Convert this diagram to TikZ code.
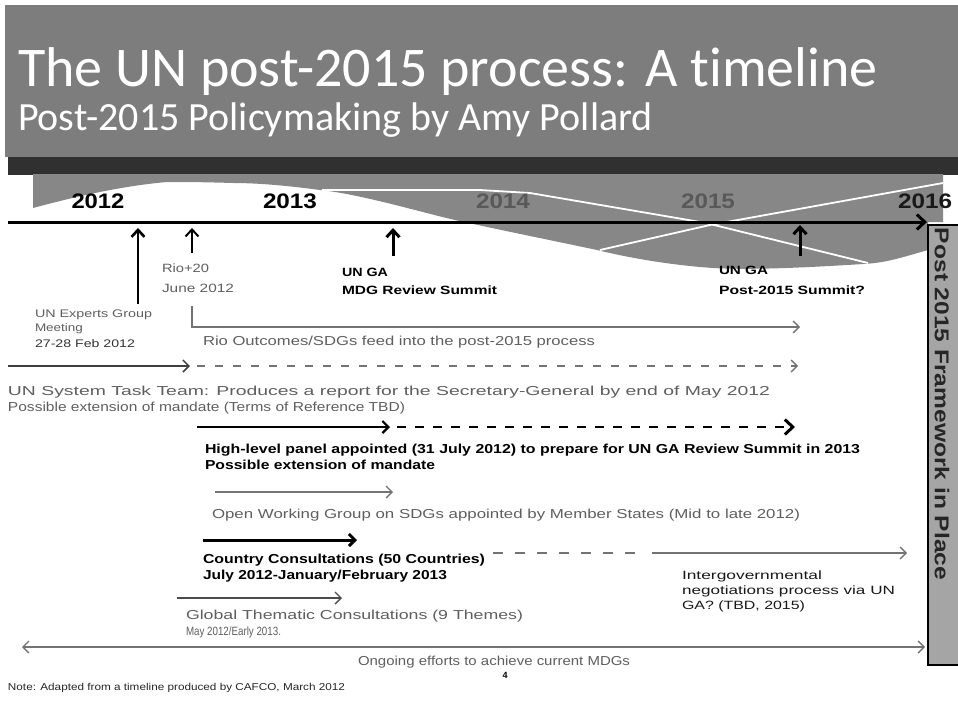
\documentclass[tikz,border=0pt]{standalone}
\usepackage{fontspec}
\usepackage{graphicx}
\setmainfont{Liberation Sans}
\newfontfamily\titlef[Ligatures=NoCommon]{Carlito}
\usetikzlibrary{arrows.meta}
\definecolor{hdr}{RGB}{125,125,125}
\definecolor{band}{RGB}{48,48,48}
\definecolor{ribbon}{RGB}{135,135,135}
\definecolor{txtg}{RGB}{95,95,95}
\definecolor{arrg}{RGB}{115,115,115}
\definecolor{boxg}{RGB}{165,165,165}
\newcommand{\fw}[2]{\resizebox{#1pt}{\height}{#2}}
\begin{document}
\begin{tikzpicture}[x=1pt,y=-1pt,
  tx/.style={anchor=base west, inner sep=0pt, outer sep=0pt},
  gtx/.style={tx, text=txtg, font=\fontsize{13}{15}\selectfont},
  btx/.style={tx, text=black, font=\bfseries\fontsize{13}{15}\selectfont},
  lbl/.style={tx, text=black, font=\bfseries\fontsize{12}{14}\selectfont},
  yr/.style={anchor=base, inner sep=0pt, font=\bfseries\fontsize{21}{23}\selectfont},
  barb/.style={-{Straight Barb[length=6pt,width=12pt]}},
  garr/.style={draw=arrg, line width=1.3pt, barb},
  uparr/.style={draw=black, line width=2.6pt, -{Straight Barb[length=7pt,width=13pt]}},
]
\useasboundingbox (0,0) rectangle (958,702);
\fill[white] (0,0) rectangle (958,702);
% header
\fill[hdr] (5,5) rectangle (958,157);
\fill[band] (8,157) rectangle (958,175);
\node[tx, text=white, font=\titlef\fontsize{56}{60}\selectfont] (title) at (18,86) {The UN post-2015 process: A timeline};
\node[tx, text=white, font=\titlef\fontsize{40}{44}\selectfont] (subtitle) at (18,130) {Post-2015 Policymaking by Amy Pollard};
% ribbon
\fill[ribbon] (33,174) -- (943,174) -- (943,222) -- (928,222) -- (928,250)
  .. controls (900,258) and (885,263) .. (863,264)
  .. controls (800,268) and (750,270) .. (713,268)
  .. controls (670,265) and (630,258) .. (597,250)
  .. controls (550,240) and (500,230) .. (455,220)
  .. controls (420,212) and (360,194) .. (320,190)
  .. controls (290,186) and (260,183) .. (233,183)
  .. controls (200,182) and (185,182) .. (167,182)
  .. controls (120,186) and (70,198) .. (33,208) -- cycle;
\draw[white, line width=1.8pt] (322,190) -- (480,190) -- (530,193) -- (706,223) -- (868,263);
\draw[white, line width=1.8pt] (600,250) -- (710,225) -- (943,183);
% years
\node[yr, text=black] (y12) at (98,208) {\fw{53}{2012}};
\node[yr, text=black] (y13) at (290,208) {\fw{54}{2013}};
\node[yr, text=black!65] (y14) at (503,208) {\fw{54}{2014}};
\node[yr, text=black!65] (y15) at (708,208) {\fw{54}{2015}};
\node[yr, text=black!90] (y16) at (925,208) {\fw{54}{2016}};
% timeline
\coordinate (tl0) at (8,222);
\coordinate (tl1) at (927,222);
\draw[line width=3pt, -{Straight Barb[length=8pt,width=15pt]}] (tl0) -- (tl1);
% post box
\draw[line width=1.5pt, fill=boxg] (928,225) rectangle (960,665);
\node[rotate=-90, inner sep=0pt, text=black!85, font=\bfseries\fontsize{20}{22}\selectfont] (post) at (942,404) {\fw{352}{Post 2015 Framework in Place}};
% up arrows
\coordinate (a1b) at (138,304); \coordinate (a1t) at (138,228);
\coordinate (a2b) at (192,253); \coordinate (a2t) at (192,228);
\coordinate (a3b) at (393,256); \coordinate (a3t) at (393,228);
\coordinate (a4b) at (800,256); \coordinate (a4t) at (800,225);
\draw[uparr] (a1b) -- (a1t);
\draw[uparr, line width=2pt] (a2b) -- (a2t);
\draw[uparr, line width=3pt] (a3b) -- (a3t);
\draw[uparr, line width=3pt] (a4b) -- (a4t);
% arrow labels
\node[gtx, font=\fontsize{11}{13}\selectfont] (exp1) at (35,317) {\fw{117}{UN Experts Group}};
\node[gtx, font=\fontsize{11}{13}\selectfont] (exp2) at (35,331) {\fw{48}{Meeting}};
\node[gtx, font=\fontsize{11}{13}\selectfont, text=black!80] (exp3) at (35,347) {\fw{100}{27-28 Feb 2012}};
\node[gtx, font=\fontsize{12}{14}\selectfont] (rio1) at (162,272) {\fw{47}{Rio+20}};
\node[gtx, font=\fontsize{12}{14}\selectfont] (rio2) at (162,292) {\fw{72}{June 2012}};
\node[lbl] (mdg1) at (342,276) {\fw{46}{UN GA}};
\node[lbl] (mdg2) at (342,294) {\fw{155}{MDG Review Summit}};
\node[lbl] (p151) at (719,274) {\fw{49}{UN GA}};
\node[lbl] (p152) at (719,294) {\fw{146}{Post-2015 Summit?}};
% Rio outcomes
\coordinate (riov) at (192,306);
\coordinate (rioe) at (800,327);
\draw[garr] (riov) |- (rioe);
\node[gtx] (rioout) at (203,345) {\fw{392}{Rio Outcomes/SDGs feed into the post-2015 process}};
% task team
\coordinate (ta0) at (8,366); \coordinate (ta1) at (190,366);
\coordinate (ta2) at (197,366); \coordinate (ta3) at (798,366);
\draw[draw=black!75, line width=1.5pt, barb] (ta0) -- (ta1);
\draw[garr, dash pattern=on 8pt off 10pt] (ta2) -- (ta3);
\node[gtx] (task1) at (8,395) {\fw{762}{UN System Task Team: Produces a report for the Secretary-General by end of May 2012}};
\node[gtx] (task2) at (8,411) {\fw{397}{Possible extension of mandate (Terms of Reference TBD)}};
% high level panel
\coordinate (h0) at (197,427); \coordinate (h1) at (390,427);
\coordinate (h2) at (397,427); \coordinate (h3) at (795,427);
\draw[black, line width=2.2pt, barb] (h0) -- (h1);
\draw[black, line width=2.2pt, dash pattern=on 9pt off 9pt, -{Straight Barb[length=8pt,width=15pt,line width=3pt]}] (h2) -- (h3);
\node[btx] (hl1) at (205,453) {\fw{655}{High-level panel appointed (31 July 2012) to prepare for UN GA Review Summit in 2013}};
\node[btx] (hl2) at (205,469) {\fw{230}{Possible extension of mandate}};
% open working group
\coordinate (o0) at (215,492); \coordinate (o1) at (393,492);
\draw[garr] (o0) -- (o1);
\node[gtx] (owg) at (212,518) {\fw{588}{Open Working Group on SDGs appointed by Member States (Mid to late 2012)}};
% country consultations
\coordinate (c0) at (203,540); \coordinate (c1) at (357,540);
\draw[black, line width=3pt, barb] (c0) -- (c1);
\node[btx] (cc1) at (203,563) {\fw{282}{Country Consultations (50 Countries)}};
\node[btx] (cc2) at (203,579) {\fw{244}{July 2012-January/February 2013}};
\coordinate (cd0) at (493,553); \coordinate (cd1) at (645,553);
\coordinate (cs0) at (652,553); \coordinate (cs1) at (907,553);
\draw[draw=arrg, line width=1.3pt, dash pattern=on 10pt off 12pt] (cd0) -- (cd1);
\draw[garr] (cs0) -- (cs1);
\node[tx, text=black!90, font=\fontsize{12}{14}\selectfont] (ig1) at (682,579) {\fw{140}{Intergovernmental}};
\node[tx, text=black!90, font=\fontsize{12}{14}\selectfont] (ig2) at (682,594) {\fw{213}{negotiations process via UN}};
\node[tx, text=black!90, font=\fontsize{12}{14}\selectfont] (ig3) at (682,609) {\fw{123}{GA? (TBD, 2015)}};
% global thematic
\coordinate (g0) at (177,598); \coordinate (g1) at (342,598);
\draw[draw=black!70, line width=1.4pt, barb] (g0) -- (g1);
\node[gtx] (gtc1) at (186,619) {\fw{337}{Global Thematic Consultations (9 Themes)}};
\node[gtx, font=\fontsize{12}{14}\selectfont] (gtc2) at (186,635) {\fw{95}{May 2012/Early 2013.}};
% ongoing
\coordinate (on0) at (22,647); \coordinate (on1) at (925,647);
\draw[draw=arrg, line width=1.3pt, {Straight Barb[length=6pt,width=12pt]}-{Straight Barb[length=6pt,width=12pt]}] (on0) -- (on1);
\node[gtx] (ong) at (358,665) {\fw{272}{Ongoing efforts to achieve current MDGs}};
\node[anchor=base, inner sep=0pt, font=\bfseries\fontsize{9}{10}\selectfont] (pg) at (505,678) {4};
\node[tx, text=black!85, font=\fontsize{10}{12}\selectfont] (note) at (8,690) {\fw{337}{Note: Adapted from a timeline produced by CAFCO, March 2012}};
\end{tikzpicture}
\end{document}
